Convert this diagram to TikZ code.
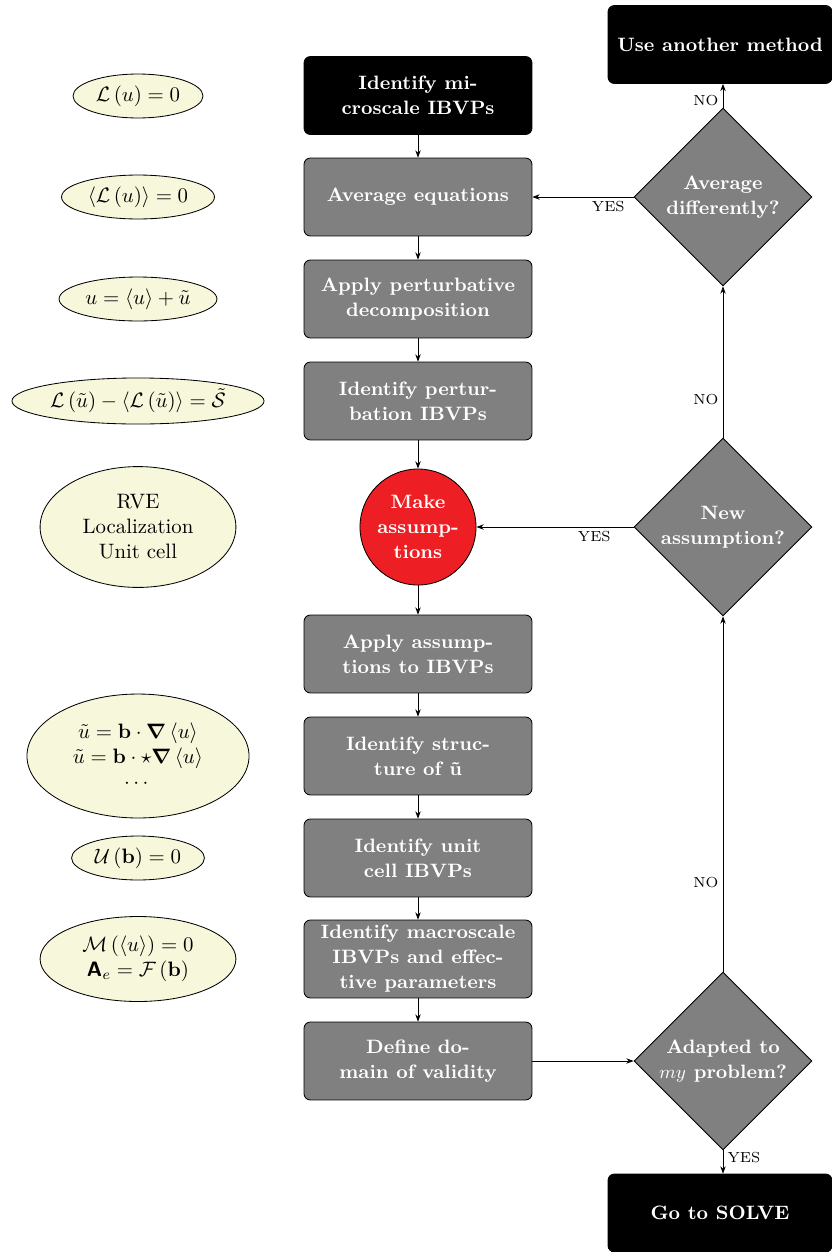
\documentclass[tikz,border=0pt]{standalone}
\usepackage{amsmath,amssymb}
\usetikzlibrary{shapes.geometric,arrows.meta}
\definecolor{ellfill}{RGB}{247,247,220}
\definecolor{boxgray}{RGB}{128,128,128}
\definecolor{assred}{RGB}{237,31,36}
\newcommand{\boxfont}{\fontsize{9.3}{12}\selectfont\bfseries}
\begin{document}
\begin{tikzpicture}[x=0.48pt,y=-0.48pt,
 proc/.style={draw=black, fill=boxgray, rounded corners=3pt, text=white, font=\boxfont, align=center, minimum width=109.4pt, minimum height=37.4pt, inner sep=1pt},
 term/.style={proc, fill=black},
 decision/.style={diamond, draw=black, fill=boxgray, text=white, font=\boxfont, align=center, minimum width=85.4pt, minimum height=85.4pt, inner sep=0pt, shape aspect=1},
 assume/.style={circle, draw=black, fill=assred, text=white, font=\boxfont, align=center, minimum size=55.7pt, inner sep=0pt},
 eq/.style={ellipse, draw=black, fill=ellfill, align=center, inner sep=0pt},
 flow/.style={-{Stealth[length=3.5pt,width=2.6pt]}, line width=0.4pt},
 lab/.style={font=\scriptsize, inner sep=2pt}
]
\useasboundingbox (0,0) rectangle (832,1252);

% main column
\node[term] (b1) at (418,95.5) {Identify mi-\\croscale IBVPs};
\node[proc] (b2) at (418,197) {Average equations};
\node[proc] (b3) at (418,299) {Apply perturbative\\decomposition};
\node[proc] (b4) at (418,401) {Identify pertur-\\bation IBVPs};
\node[assume] (c5) at (418,527) {Make\\assump-\\tions};
\node[proc] (b6) at (418,654) {Apply assump-\\tions to IBVPs};
\node[proc] (b7) at (418,756) {Identify struc-\\ture of \~u};
\node[proc] (b8) at (418,858) {Identify unit\\cell IBVPs};
\node[proc] (b9) at (418,959) {Identify macroscale\\IBVPs and effec-\\tive parameters};
\node[proc] (b10) at (418,1061) {Define do-\\main of validity};

% right column
\node[term, minimum width=107.5pt] (use) at (720,44.5) {Use another method};
\node[decision] (d1) at (723,197) {Average\\differently?};
\node[decision] (d2) at (723,527) {New\\assumption?};
\node[decision] (d3) at (723,1061) {Adapted to\\$my$ problem?};
\node[term, minimum width=107.5pt] (solve) at (720,1213) {Go to SOLVE};

% left equations
\node[eq, minimum width=62.4pt, minimum height=21.1pt] (e1) at (138,96) {$\mathcal{L}\left(u\right)=0$};
\node[eq, minimum width=73.4pt, minimum height=21.1pt] (e2) at (138,197) {$\left\langle\mathcal{L}\left(u\right)\right\rangle=0$};
\node[eq, minimum width=75.8pt, minimum height=21.1pt] (e3) at (138,299) {$u=\left\langle u\right\rangle+\tilde{u}$};
\node[eq, minimum width=121pt, minimum height=22.1pt] (e4) at (138,401) {$\mathcal{L}\left(\tilde{u}\right)-\left\langle\mathcal{L}\left(\tilde{u}\right)\right\rangle=\tilde{\mathcal{S}}$};
\node[eq, minimum width=94pt, minimum height=58pt] (e5) at (138,527) {RVE\\Localization\\Unit cell};
\node[eq, minimum width=106.6pt, minimum height=59.5pt] (e6) at (138,756) {$\tilde{u}=\mathbf{b}\cdot\boldsymbol{\nabla}\left\langle u\right\rangle$\\$\tilde{u}=\mathbf{b}\cdot{\star}\boldsymbol{\nabla}\left\langle u\right\rangle$\\$\cdots$};
\node[eq, minimum width=63.8pt, minimum height=21.1pt] (e7) at (138,858) {$\mathcal{U}\left(\mathbf{b}\right)=0$};
\node[eq, minimum width=94pt, minimum height=40.8pt] (e8) at (138,959) {$\mathcal{M}\left(\left\langle u\right\rangle\right)=0$\\$\textsf{\textbf{A}}_e=\mathcal{F}\left(\mathbf{b}\right)$};

% main flow
\draw[flow] (b1) -- (b2);
\draw[flow] (b2) -- (b3);
\draw[flow] (b3) -- (b4);
\draw[flow] (b4) -- (c5);
\draw[flow] (c5) -- (b6);
\draw[flow] (b6) -- (b7);
\draw[flow] (b7) -- (b8);
\draw[flow] (b8) -- (b9);
\draw[flow] (b9) -- (b10);
\draw[flow] (b10) -- (d3);

% decisions
\draw[flow] (d3.south) -- node[lab, right, pos=0.3] {YES} (d3.south |- solve.north);
\draw[flow] (d3.north) -- node[lab, left, pos=0.25] {NO} (d2.south);
\draw[flow] (d2.west) -- node[lab, below, pos=0.25] {YES} (c5.east);
\draw[flow] (d2.north) -- node[lab, left, pos=0.25] {NO} (d1.south);
\draw[flow] (d1.west) -- node[lab, below, pos=0.25] {YES} (b2.east);
\draw[flow] (d1.north) -- node[lab, left, pos=0.3] {NO} (d1.north |- use.south);
\end{tikzpicture}
\end{document}
